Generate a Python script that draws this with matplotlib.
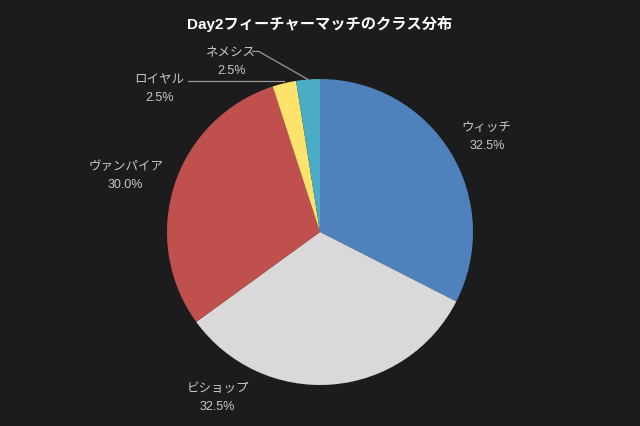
import numpy as np
import matplotlib
matplotlib.use('Agg')
import matplotlib.pyplot as plt

plt.rcParams['font.family'] = ['Liberation Sans', 'Noto Sans CJK JP', 'DejaVu Sans']

# データ
classes = ['ウィッチ', 'ビショップ', 'ヴァンパイア', 'ロイヤル', 'ネメシス']
shares = [32.5, 32.5, 30.0, 2.5, 2.5]
colors = ['#4f81bd', '#d9d9d9', '#c0504d', '#fde36c', '#4bacc6']
title = 'Day2フィーチャーマッチのクラス分布'

bg = '#1c1c1c'
label_color = '#c8c8c8'

fig = plt.figure(figsize=(6.4, 4.27), dpi=100, facecolor=bg)
ax = fig.add_axes([0, 0, 1, 1])
ax.set_facecolor(bg)

wedges, _ = ax.pie(shares, colors=colors, startangle=90, counterclock=False,
                   radius=1.0, wedgeprops=dict(linewidth=0))

# 半径 = 153px、中心 (320, 233)  (pie の後に範囲を設定)
r_px = 153
ax.set_xlim(-320 / r_px, 320 / r_px)
ax.set_ylim(-(427 - 233) / r_px, 233 / r_px)
ax.axis('off')

# ラベル位置 (データ座標)
label_pos = {
    'ウィッチ': (1.09, 0.63),
    'ビショップ': (-0.67, -1.08),
    'ヴァンパイア': (-1.27, 0.37),
    'ロイヤル': (-1.05, 0.94),
    'ネメシス': (-0.58, 1.12),
}

for w, name, val in zip(wedges, classes, shares):
    x, y = label_pos[name]
    ax.text(x, y, f'{name}\n{val:.1f}%', ha='center', va='center',
            color=label_color, fontsize=9, linespacing=1.65)

# 小さいスライスの引き出し線
for w, name in zip(wedges, classes):
    if name not in ('ロイヤル', 'ネメシス'):
        continue
    ang = np.deg2rad((w.theta1 + w.theta2) / 2)
    ex, ey = np.cos(ang), np.sin(ang)
    lx, ly = label_pos[name]
    if name == 'ロイヤル':
        xs = [lx + 0.19, ex]
        ys = [ly + 0.05, ly + 0.05]
    else:
        xs = [lx + 0.14, lx + 0.18, ex]
        ys = [ly + 0.06, ly + 0.06, ey]
    ax.plot(xs, ys, color='#9a9a9a', linewidth=0.9)

fig.text(0.5, 1 - 24 / 427, title, ha='center', va='center',
         color='white', fontsize=11, fontweight='bold')

fig.savefig('out.png', dpi=100, facecolor=bg)
